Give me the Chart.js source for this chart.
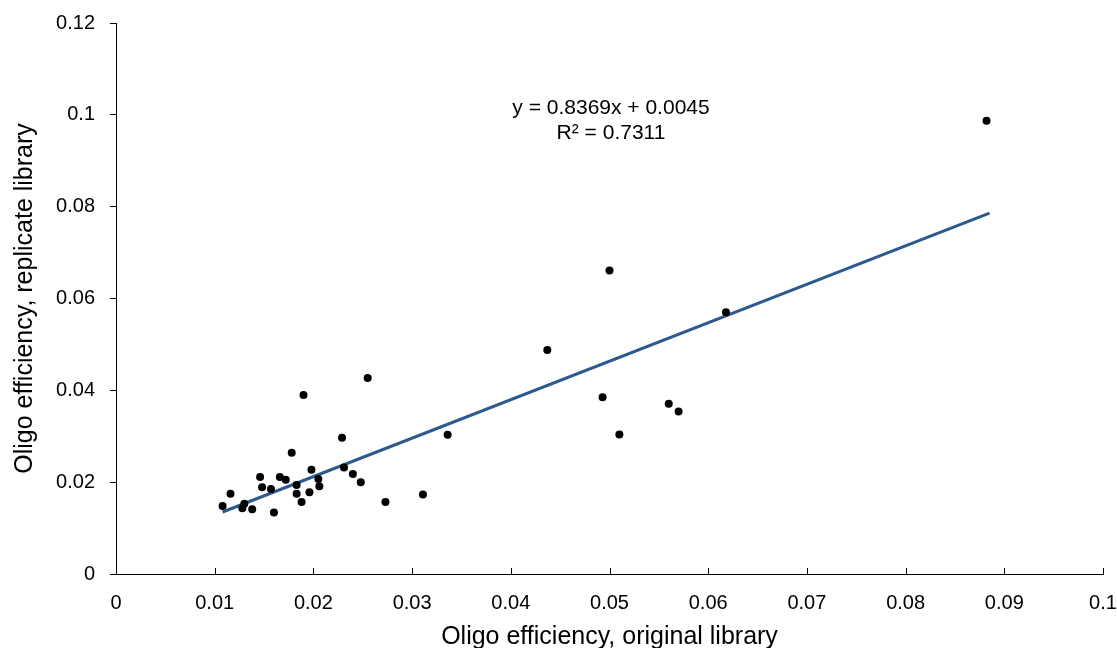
<!DOCTYPE html>
<html>
<head>
<meta charset="utf-8">
<script src="https://cdn.jsdelivr.net/npm/chart.js@4"></script>
<style>
  html, body { margin: 0; padding: 0; background: #fff; }
  #wrap { width: 1117px; height: 648px; }
</style>
</head>
<body>
<div id="wrap"><canvas id="chart" width="1117" height="648"></canvas></div>
<script>
// oligo efficiency
const originalLib = [0.0108, 0.0116, 0.0128, 0.0130, 0.0138, 0.0146, 0.0148, 0.0157, 0.0160, 0.0166,
  0.0172, 0.0178, 0.0183, 0.0183, 0.0188, 0.0190, 0.0196, 0.0198, 0.0205, 0.0206,
  0.0229, 0.0231, 0.0240, 0.0248, 0.0255, 0.0273, 0.0311, 0.0336, 0.0437, 0.0493,
  0.0500, 0.0510, 0.0560, 0.0570, 0.0618, 0.0882];
const replicateLib = [0.0148, 0.0175, 0.0143, 0.0153, 0.0141, 0.0211, 0.0189, 0.0185, 0.0134, 0.0211,
  0.0205, 0.0264, 0.0194, 0.0175, 0.0157, 0.0390, 0.0178, 0.0227, 0.0207, 0.0191,
  0.0297, 0.0232, 0.0218, 0.0200, 0.0427, 0.0157, 0.0173, 0.0303, 0.0488, 0.0385,
  0.0661, 0.0304, 0.0371, 0.0354, 0.0570, 0.0987];

// linear trendline, end points as drawn
const trendX = [0.0108, 0.0885];
const trendY = [0.0135, 0.0786];
const equationLines = ["y = 0.8369x + 0.0045", "R² = 0.7311"];

const fmt = v => String(Number(Number(v).toFixed(3)));

const innerTicks = {
  id: "innerTicks",
  afterDatasetsDraw(chart) {
    const x = chart.scales.x;
    const ctx = chart.ctx;
    ctx.save();
    ctx.strokeStyle = "#000";
    ctx.lineWidth = 1;
    x.ticks.forEach(t => {
      const px = Math.round(x.getPixelForValue(t.value)) + 0.5;
      ctx.beginPath();
      ctx.moveTo(px, x.top);
      ctx.lineTo(px, x.top - 6);
      ctx.stroke();
    });
    ctx.restore();
  }
};

const equationLabel = {
  id: "equationLabel",
  afterDraw(chart) {
    const ctx = chart.ctx;
    ctx.save();
    ctx.fillStyle = "#000";
    ctx.font = "21px 'Liberation Sans', Arial, sans-serif";
    ctx.textAlign = "center";
    ctx.textBaseline = "middle";
    ctx.fillText(equationLines[0], 611, 108);
    ctx.fillText(equationLines[1], 611, 133);
    ctx.restore();
  }
};

const pts = originalLib.map((x, i) => ({ x, y: replicateLib[i] }));
const trend = trendX.map((x, i) => ({ x, y: trendY[i] }));

Chart.defaults.font.family = "'Liberation Sans', Arial, sans-serif";
Chart.defaults.color = "#000";

new Chart(document.getElementById("chart"), {
  type: "scatter",
  data: {
    datasets: [
      { label: "Oligos", data: pts, backgroundColor: "#000", borderWidth: 0, pointRadius: 4, order: 1 },
      { label: "Linear", data: trend, type: "line", showLine: true, borderColor: "#2c5a8f", borderWidth: 3,
        pointRadius: 0, fill: false, order: 2 }
    ]
  },
  options: {
    responsive: false,
    animation: false,
    layout: { padding: { left: 0, right: 14, top: 23, bottom: 0 } },
    plugins: { legend: { display: false }, tooltip: { enabled: false } },
    scales: {
      x: {
        type: "linear", min: 0, max: 0.1,
        ticks: { stepSize: 0.01, callback: fmt, font: { size: 20 }, padding: 17, maxRotation: 0 },
        grid: { display: true, drawOnChartArea: false, drawTicks: false },
        border: { color: "#000", width: 1 },
        title: { display: true, text: "Oligo efficiency, original library", font: { size: 25, lineHeight: 0.9 }, padding: { top: 0, bottom: 0 } },
        afterFit: s => { s.height = 74; s.paddingLeft = 0; s.paddingRight = 0; }
      },
      y: {
        type: "linear", min: 0, max: 0.12,
        ticks: { stepSize: 0.02, callback: fmt, font: { size: 20 }, padding: 15 },
        grid: { drawOnChartArea: false, drawTicks: true, tickLength: 6, color: "#000" },
        border: { color: "#000", width: 1 },
        title: { display: true, text: "Oligo efficiency, replicate library", font: { size: 25 }, padding: { top: 10, bottom: 0 } },
        afterFit: s => { s.width = 116; s.paddingTop = 0; s.paddingBottom = 0; }
      }
    }
  },
  plugins: [innerTicks, equationLabel]
});
</script>
</body>
</html>
